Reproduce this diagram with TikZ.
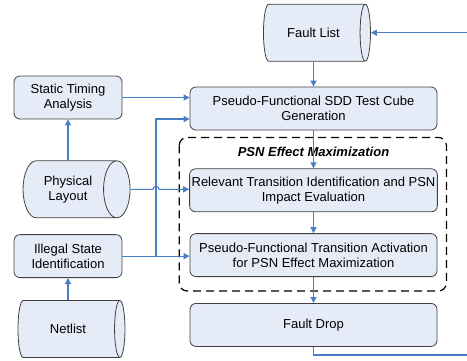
\documentclass[tikz,border=0pt]{standalone}
\usepackage{fontspec}
\setmainfont{Liberation Sans}
\usetikzlibrary{positioning,shapes.geometric,arrows.meta}
\definecolor{boxfill}{HTML}{E6ECF7}
\definecolor{boxline}{HTML}{404040}
\definecolor{flowblue}{HTML}{4A7EC4}

\begin{document}
\begin{tikzpicture}[
                    x=1pt, y=-1pt,
                    >={Triangle[width=6pt,length=6pt]},
                    font=\fontsize{13}{15.3}\selectfont,
                    stepbox/.style={draw=boxline, fill=boxfill, line width=0.8pt, rounded corners=6pt, align=center, minimum height=43pt, inner sep=2pt},
                    mainbox/.style={stepbox, minimum width=247pt},
                    sidebox/.style={stepbox, minimum width=108pt},
                    store/.style={cylinder, draw=boxline, fill=boxfill, line width=0.8pt, align=center, aspect=0.9, minimum height=107pt, minimum width=57pt, inner sep=1pt},
                    grouptitle/.style={font=\fontsize{13}{15.3}\selectfont\bfseries\itshape},
                    groupbox/.style={draw, line width=1.2pt, dash pattern=on 8pt off 5pt, rounded corners=8pt},
                    flow/.style={->, color=flowblue, line width=1.1pt}
                ]
                \useasboundingbox (0,0) rectangle (467,360);

                % main column
                \node[mainbox] (gen) at (313.5,108.5) {Pseudo-Functional SDD Test Cube\\Generation};
                \node[store] (fault) [above=25pt of gen] {Fault List};
                \node[mainbox] (rel) [below=38pt of gen] {Relevant Transition Identification and PSN\\Impact Evaluation};
                \node[mainbox] (act) [below=21pt of rel] {Pseudo-Functional Transition Activation\\for PSN Effect Maximization};
                \node[mainbox] (drop) [below=26pt of act] {Fault Drop};

                \node[grouptitle] (title) [above=8pt of rel] {PSN Effect Maximization};
                \draw[groupbox] ([xshift=-10pt,yshift=31pt]rel.north west) rectangle ([xshift=9pt,yshift=-14pt]act.south east);

                % left column
                \node[sidebox] (sta) at (68,97.5) {Static Timing\\Analysis};
                \node[store] (phys) [below=41pt of sta] {Physical\\Layout};
                \node[sidebox] (ill) [below=16pt of phys] {Illegal State\\Identification};
                \node[store] (net) [below=22pt of ill] {Netlist};

                \coordinate (bus) at (156,0);
                \coordinate (ret) at (471,355);

                \path[flow]
                (fault.south) edge (fault.south |- gen.north)
                (gen) edge (rel)
                (rel) edge (act)
                (act) edge (drop)
                (phys.north) edge (phys.north |- sta.south)
                (net.north) edge (net.north |- ill.south)
                (sta.east) edge (sta.east -| gen.west)
                (ill.east) edge (ill.east -| act.west)
                ;

                \draw[flow] (ill.east -| bus) |- ([yshift=-10.5pt]gen.west);
                \draw[flow] (phys.east) -- ([xshift=-3pt]bus |- phys.east) arc[start angle=180, end angle=0, radius=3pt] -- (rel.west |- phys.east);
                \draw[flow] (drop.south) |- (ret) |- (fault.east);
            \end{tikzpicture}
\end{document}
